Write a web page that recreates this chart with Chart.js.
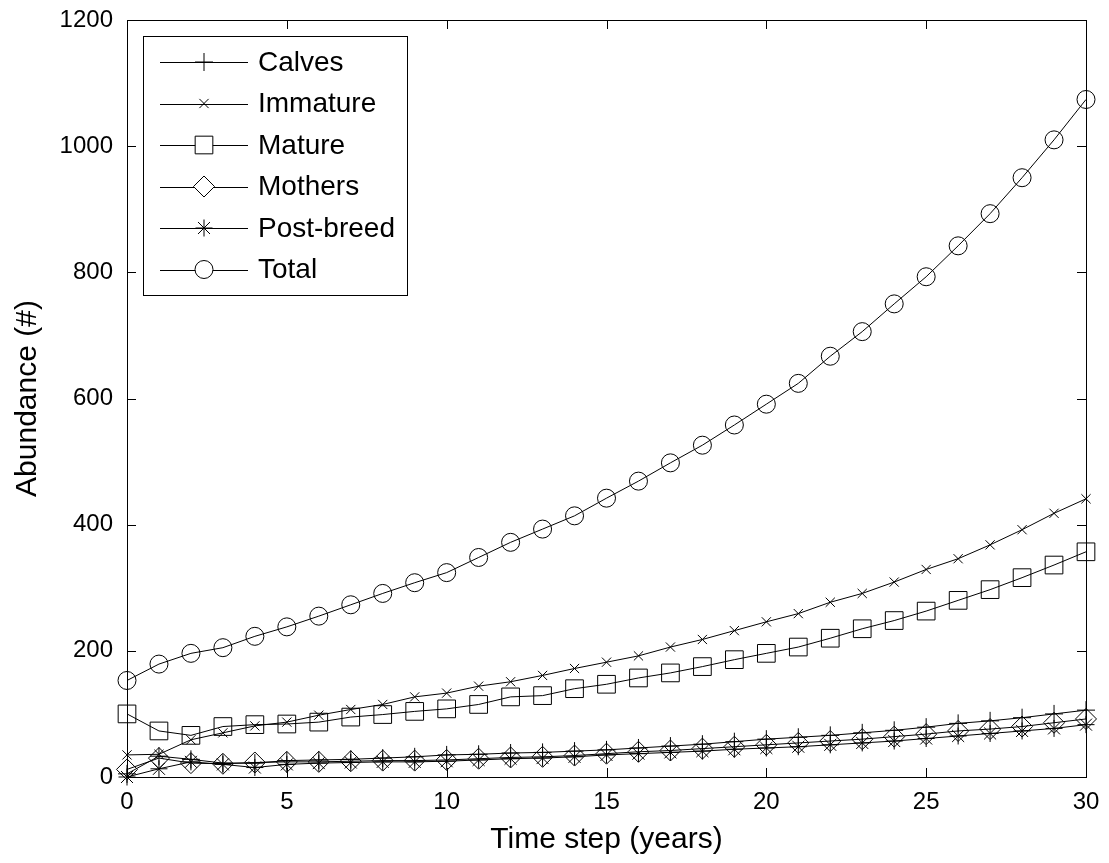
<!DOCTYPE html>
<html>
<head>
  <title>Abundance</title>
  <script src="https://cdn.jsdelivr.net/npm/chart.js@4/dist/chart.umd.min.js"></script>
  <style>
    body { margin: 0; background: #fff; }
  </style>
</head>
<body>
  <canvas id="abundance" width="1109" height="863"></canvas>
  <script>
    var years = [0, 1, 2, 3, 4, 5, 6, 7, 8, 9, 10, 11, 12, 13, 14, 15, 16, 17, 18, 19, 20, 21, 22, 23, 24, 25, 26, 27, 28, 29, 30];
    var calves = [5, 33, 28, 22, 22, 26, 27, 28, 30, 32, 35, 36, 38, 39, 41, 43, 46, 49, 52, 56, 60, 63, 66, 70, 74, 79, 85, 89, 94, 100, 106];
    var immature = [35, 36, 59, 70, 81, 87, 98, 107, 115, 127, 133, 144, 151, 161, 172, 182, 192, 206, 218, 232, 246, 259, 277, 291, 309, 329, 346, 368, 392, 418, 441];
    var mature = [100, 73, 66, 80, 83, 84, 87, 95, 99, 104, 108, 115, 127, 129, 140, 147, 157, 165, 175, 186, 196, 206, 220, 235, 248, 263, 280, 297, 316, 336, 357];
    var mothers = [12, 30, 22, 21, 23, 24, 24, 25, 26, 26, 27, 29, 31, 32, 34, 37, 40, 42, 45, 48, 51, 54, 57, 60, 64, 68, 73, 76, 80, 86, 92];
    var postBreed = [0, 13, 24, 20, 15, 20, 22, 23, 24, 24, 25, 27, 29, 30, 32, 35, 37, 39, 41, 44, 46, 48, 51, 54, 57, 61, 65, 69, 73, 77, 83];
    var total = [153, 179, 196, 205, 223, 238, 255, 273, 291, 308, 324, 348, 372, 393, 414, 442, 469, 498, 526, 558, 591, 624, 667, 706, 750, 793, 842, 893, 950, 1010, 1074];

    var seriesNames = ['Calves', 'Immature', 'Mature', 'Mothers', 'Post-breed', 'Total'];
    var seriesValues = [calves, immature, mature, mothers, postBreed, total];
    var markers = ['cross', 'crossRot', 'rect', 'rectRot', 'star', 'circle'];
    var markerSize = [9, 6.5, 12.5, 10.5, 8.5, 9];

    var xTicks = [0, 5, 10, 15, 20, 25, 30];
    var yTicks = [0, 200, 400, 600, 800, 1000, 1200];

    var FONT = "'Liberation Sans', Arial, Helvetica, sans-serif";

    var datasets = seriesValues.map(function (vals, i) {
      return {
        label: seriesNames[i],
        data: vals.map((v, k) => ({ x: years[k], y: v })),
        borderColor: '#000',
        borderWidth: 1,
        tension: 0,
        fill: false,
        clip: false,
        pointStyle: markers[i],
        pointRadius: markerSize[i],
        pointBorderColor: '#000',
        pointBackgroundColor: 'rgba(0,0,0,0)',
        pointBorderWidth: 1
      };
    });

    // box round the plot, inward ticks and the legend inside the axes
    var framePlugin = {
      id: 'frame',
      afterDraw: function (chart) {
        var c = chart.ctx, a = chart.chartArea;
        var xs = chart.scales.x, ys = chart.scales.y;
        var tl = 9;
        c.save();
        c.strokeStyle = '#000';
        c.lineWidth = 1;
        c.strokeRect(Math.round(a.left) + 0.5, Math.round(a.top) + 0.5,
          Math.round(a.right - a.left), Math.round(a.bottom - a.top));
        c.beginPath();
        xTicks.forEach(function (t) {
          var px = Math.round(xs.getPixelForValue(t)) + 0.5;
          c.moveTo(px, a.bottom); c.lineTo(px, a.bottom - tl);
          c.moveTo(px, a.top); c.lineTo(px, a.top + tl);
        });
        yTicks.forEach(function (t) {
          var py = Math.round(ys.getPixelForValue(t)) + 0.5;
          c.moveTo(a.left, py); c.lineTo(a.left + tl, py);
          c.moveTo(a.right, py); c.lineTo(a.right - tl, py);
        });
        c.stroke();

        // legend
        var lx = 143, ly = 36, lw = 264, lh = 259;
        c.fillStyle = '#fff';
        c.fillRect(lx, ly, lw, lh);
        c.strokeRect(lx + 0.5, ly + 0.5, lw, lh);
        c.font = '28px ' + FONT;
        c.textBaseline = 'middle';
        c.textAlign = 'left';
        chart.data.datasets.forEach(function (ds, i) {
          var y = ly + 26 + i * 41.5;
          c.beginPath();
          c.moveTo(lx + 17, Math.round(y) + 0.5);
          c.lineTo(lx + 105, Math.round(y) + 0.5);
          c.stroke();
          c.fillStyle = '#fff';
          Chart.helpers.drawPoint(c, {
            pointStyle: ds.pointStyle, radius: ds.pointRadius,
            borderWidth: 1, rotation: 0
          }, lx + 61, y);
          c.fillStyle = '#000';
          c.fillText(ds.label, lx + 115, y + 1);
        });
        c.restore();
      }
    };

    new Chart(document.getElementById('abundance').getContext('2d'), {
      type: 'line',
      data: { datasets: datasets },
      plugins: [framePlugin],
      options: {
        responsive: false,
        animation: false,
        layout: { padding: { top: 20, right: 23, left: 0, bottom: 0 } },
        plugins: { legend: { display: false }, tooltip: { enabled: false } },
        scales: {
          x: {
            type: 'linear',
            min: 0, max: 30,
            afterFit: function (s) { s.height = 86; s.paddingLeft = 0; s.paddingRight = 0; },
            grid: { display: false, drawTicks: false },
            border: { display: false },
            ticks: {
              stepSize: 5, padding: 11, color: '#000',
              font: { family: FONT, size: 24 }, maxRotation: 0,
              callback: function (v) { return String(v); }
            },
            title: {
              display: true, text: 'Time step (years)', color: '#000',
              font: { family: FONT, size: 30 }, padding: { top: 0, bottom: 5 }
            }
          },
          y: {
            type: 'linear',
            min: 0, max: 1200,
            afterFit: function (s) { s.width = 127; s.paddingTop = 0; s.paddingBottom = 0; },
            grid: { display: false, drawTicks: false },
            border: { display: false },
            ticks: {
              stepSize: 200, padding: 14, color: '#000',
              font: { family: FONT, size: 24 },
              callback: function (v) { return String(v); }
            },
            title: {
              display: true, text: 'Abundance (#)', color: '#000',
              font: { family: FONT, size: 30 }, padding: { top: 10, bottom: 0 }
            }
          }
        }
      }
    });
  </script>
</body>
</html>
